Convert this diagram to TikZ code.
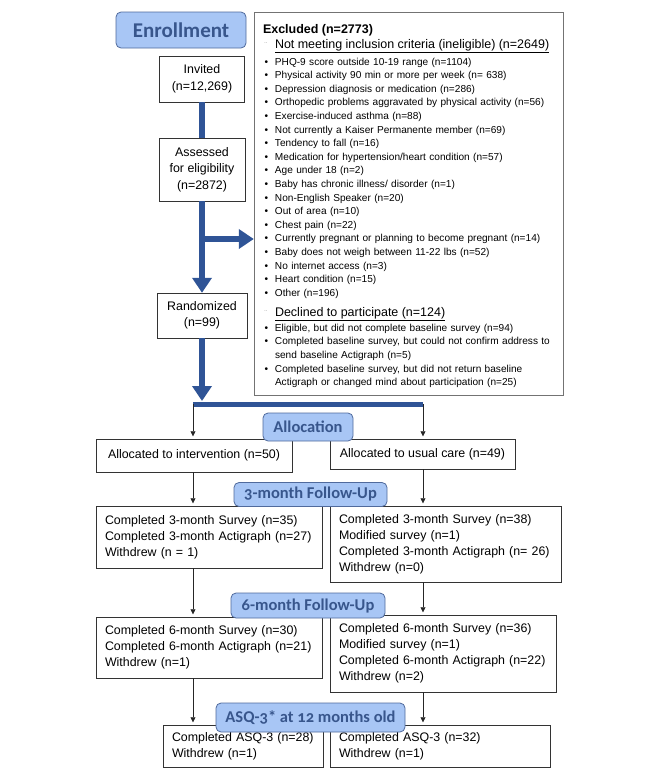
\documentclass[tikz,border=0pt]{standalone}
\usepackage{fontspec}
\setmainfont{Liberation Sans}
\newfontfamily\phasefont[Numbers=OldStyle]{Carlito}
\usetikzlibrary{arrows.meta}

\definecolor{flowblue}{RGB}{47,84,150}
\definecolor{phasefill}{RGB}{168,198,245}
\definecolor{phaseline}{RGB}{80,106,156}
\definecolor{phasetext}{RGB}{56,86,140}

\newcommand{\exhead}[1]{{\fontsize{12.5}{15}\selectfont\noindent
  \makebox[12pt][l]{\hspace{1.5pt}\raisebox{1pt}{\color{black!45}\fontsize{7}{7}\selectfont ¨}}\underline{#1}\par}}
\newcommand{\exitem}[1]{\noindent\makebox[12pt][l]{\hspace{1.5pt}\textbullet}#1\par}
\newcommand{\excont}[1]{\noindent\hspace{12pt}#1\par}

\begin{document}
\begin{tikzpicture}[x=1pt,y=-1pt,
  box/.style={draw=black!80,fill=white,inner sep=0pt,align=center,
    font=\fontsize{12.4}{16.5}\selectfont},
  listbox/.style={box,align=left,inner xsep=9pt,inner ysep=0pt,
    font=\fontsize{12.4}{16}\selectfont},
  phase/.style={draw=phaseline,fill=phasefill,rounded corners=5pt,line width=0.8pt,
    text=phasetext,inner sep=0pt,font=\phasefont\bfseries\fontsize{16.5}{18}\selectfont},
  exframe/.style={draw=black!55,inner sep=0pt},
  exlist/.style={inner sep=0pt,text width=295pt,align=left,font=\fontsize{10.1}{13.6}\selectfont},
  flow/.style={draw=flowblue,line width=6pt,-{Triangle[length=15pt,width=19pt]}},
  link/.style={draw=black!85,line width=0.7pt,shorten >=2.5pt,-{Triangle[length=5pt,width=5pt]}}]

\useasboundingbox (0,0) rectangle (666,774);

\node[phase,minimum width=130,minimum height=36,
  font=\phasefont\bfseries\fontsize{21}{23}\selectfont] (enroll) at (181,30) {Enrollment};

\node[box,minimum width=85,minimum height=46] (invited) at (202,79) {Invited\\(n=12,269)};
\node[box,minimum width=86,minimum height=63] (assessed) at (202,169.5) {Assessed\\for eligibility\\(n=2872)};
\node[box,minimum width=90,minimum height=45] (rand) at (202,315.5) {Randomized\\(n=99)};

\node[exframe,minimum width=309,minimum height=383] (excl) at (408.5,203.5) {};
\node[exlist,anchor=north west] (exitems) at ([shift={(9,12.5)}]excl.north west) {%
  {\fontsize{12.5}{15}\selectfont\bfseries Excluded (n=2773)\par}
  \exhead{Not meeting inclusion criteria (ineligible) (n=2649)}
  \vspace{2.9pt}
  \exitem{PHQ-9 score outside 10-19 range (n=1104)}
  \exitem{Physical activity 90 min or more per week (n= 638)}
  \exitem{Depression diagnosis or medication (n=286)}
  \exitem{Orthopedic problems aggravated by physical activity (n=56)}
  \exitem{Exercise-induced asthma (n=88)}
  \exitem{Not currently a Kaiser Permanente member (n=69)}
  \exitem{Tendency to fall (n=16)}
  \exitem{Medication for hypertension/heart condition (n=57)}
  \exitem{Age under 18 (n=2)}
  \exitem{Baby has chronic illness/ disorder (n=1)}
  \exitem{Non-English Speaker (n=20)}
  \exitem{Out of area (n=10)}
  \exitem{Chest pain (n=22)}
  \exitem{Currently pregnant or planning to become pregnant (n=14)}
  \exitem{Baby does not weigh between 11-22 lbs (n=52)}
  \exitem{No internet access (n=3)}
  \exitem{Heart condition (n=15)}
  \exitem{Other (n=196)}
  \vspace{5pt}
  \exhead{Declined to participate (n=124)}
  \vspace{1.4pt}
  \exitem{Eligible, but did not complete baseline survey (n=94)}
  \exitem{Completed baseline survey, but could not confirm address to}
  \excont{send baseline Actigraph (n=5)}
  \exitem{Completed baseline survey, but did not return baseline}
  \excont{Actigraph or changed mind about participation (n=25)}
};

\coordinate (branch) at (202,239);
\coordinate (split) at (202,401);
\coordinate (barL) at (193,404);
\coordinate (barR) at (423,404);

\node[box,minimum width=196,minimum height=33] (interv) at (194,455.5) {Allocated to intervention (n=50)};
\node[box,minimum width=185,minimum height=30] (usual) at (422.5,454) {Allocated to usual care (n=49)};

\node[listbox,text width=208pt,minimum height=62] (m3L) at (209,537)
  {Completed 3-month Survey (n=35)\\Completed 3-month Actigraph (n=27)\\Withdrew (n = 1)};
\node[listbox,text width=213pt,minimum height=76] (m3R) at (445.5,544)
  {Completed 3-month Survey (n=38)\\Modified survey (n=1)\\Completed 3-month Actigraph (n= 26)\\Withdrew (n=0)};
\node[listbox,text width=208pt,minimum height=61] (m6L) at (209,647.5)
  {Completed 6-month Survey (n=30)\\Completed 6-month Actigraph (n=21)\\Withdrew (n=1)};
\node[listbox,text width=208pt,minimum height=77] (m6R) at (443,653.5)
  {Completed 6-month Survey (n=36)\\Modified survey (n=1)\\Completed 6-month Actigraph (n=22)\\Withdrew (n=2)};
\node[listbox,text width=142pt,minimum height=42] (asqL) at (243,746)
  {Completed ASQ-3 (n=28)\\Withdrew (n=1)};
\node[listbox,text width=202pt,minimum height=42] (asqR) at (440,746)
  {Completed ASQ-3 (n=32)\\Withdrew (n=1)};

\node[phase,minimum width=90,minimum height=28] (alloc) at (308,427) {Allocation};
\node[phase,minimum width=153,minimum height=24] (m3lab) at (310.5,494.5) {3-month Follow-Up};
\node[phase,minimum width=154,minimum height=25] (m6lab) at (308,605.5) {6-month Follow-Up};
\node[phase,minimum width=189,minimum height=29] (asqlab) at (310.5,717.5) {ASQ-3* at 12 months old};

\draw[flow,-] (invited) -- (assessed);
\draw[flow] (assessed) -- (rand);
\draw[flow] (branch) -- (branch -| excl.west);
\draw[flow] (rand) -- (split);
\draw[flowblue,line width=5pt] (barL) -- (barR);

\draw[link] (barL) -- (barL |- interv.north);
\draw[link] (barR) -- (barR |- usual.north);
\draw[link] (barL |- interv.south) -- (barL |- m3L.north);
\draw[link] (barR |- usual.south) -- (barR |- m3R.north);
\draw[link] (barL |- m3L.south) -- (barL |- m6L.north);
\draw[link] (barR |- m3R.south) -- (barR |- m6R.north);
\draw[link] (barL |- m6L.south) -- (barL |- asqL.north);
\draw[link] (barR |- m6R.south) -- (barR |- asqR.north);
\end{tikzpicture}
\end{document}
